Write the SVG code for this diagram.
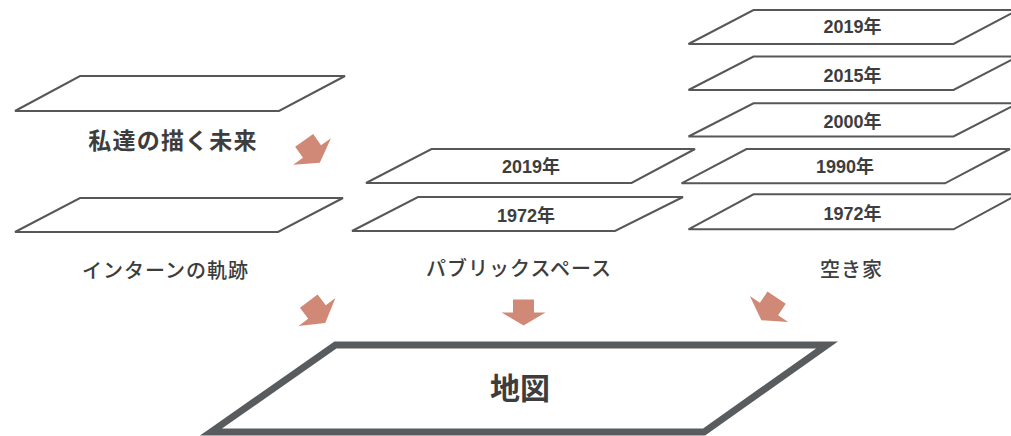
<svg xmlns="http://www.w3.org/2000/svg" width="1011" height="436" viewBox="0 0 1011 436">
  <style>
    .plane { fill: #ffffff; stroke: #555759; stroke-width: 2; stroke-linejoin: miter; }
    .map { fill: #ffffff; stroke: #595c5f; stroke-width: 7; stroke-linejoin: miter; }
    .lbl { font-family: "Noto Sans CJK JP", "Noto Sans", sans-serif; fill: #3d3d3d; text-anchor: middle; font-weight: 500; font-size: 20px; letter-spacing: 1px; }
    .big { font-size: 23px; font-weight: 700; letter-spacing: 1.2px; }
    .year { font-family: "Liberation Sans", "Noto Sans CJK JP", sans-serif; fill: #3d3d3d; text-anchor: middle; font-weight: 700; font-size: 18px; }
    .title { font-family: "Noto Sans CJK JP", sans-serif; fill: #3d3d3d; text-anchor: middle; font-weight: 700; font-size: 30px; }
    .arrow { fill: #d08976; }
  </style>
  <defs>
    <path id="arr" class="arrow" d="M-10.5,-13 H10.5 V0 H22 L0,13 L-22,0 H-10.5 Z"/>
  </defs>

  <g id="node-future">
    <polygon class="plane" points="15,111 80,76 345,76 279,111"/>
    <text class="lbl big" x="173" y="149">私達の描く未来</text>
  </g>

  <g id="node-intern">
    <polygon class="plane" points="15,232 80,198 343,198 278,232"/>
    <text class="lbl" x="165.5" y="278">インターンの軌跡</text>
  </g>

  <g id="node-public">
    <polygon class="plane" points="366,183 431.5,149 695,149 631.5,183"/>
    <text class="year" x="531" y="173">2019年</text>
    <polygon class="plane" points="352,231 418,197 683,197 615,231"/>
    <text class="year" x="526" y="222">1972年</text>
    <text class="lbl" x="519" y="275.5">パブリックスペース</text>
  </g>

  <g id="node-vacant">
    <polygon class="plane" points="688.5,44 753.5,10 1018,10 953.5,44"/>
    <text class="year" x="852.5" y="33.3">2019年</text>
    <polygon class="plane" points="688.5,90 753.5,56.5 1018,56.5 953.5,90"/>
    <text class="year" x="852.5" y="81.7">2015年</text>
    <polygon class="plane" points="688.5,136.5 753.5,103.3 1018,103.3 953.5,136.5"/>
    <text class="year" x="852.5" y="128.3">2000年</text>
    <polygon class="plane" points="681.5,183.3 746.5,149 1010,149 945,183.3"/>
    <text class="year" x="845" y="173.3">1990年</text>
    <polygon class="plane" points="688.5,229.3 753.5,194.3 1018,194.3 953.5,229.3"/>
    <text class="year" x="852.5" y="220">1972年</text>
    <text class="lbl" x="851.5" y="276.5">空き家</text>
  </g>

  <g id="node-map">
    <polygon class="map" points="211,432 335.5,345 827,345 704,432"/>
    <text class="title" x="520" y="399">地図</text>
  </g>

  <g id="connectors">
    <use href="#arr" transform="translate(312,151.5) rotate(-35) scale(1.05)"/>
    <use href="#arr" transform="translate(317,312) rotate(-37) scale(1.05)"/>
    <use href="#arr" transform="translate(523.5,312.5)"/>
    <use href="#arr" transform="translate(769,309) rotate(34) scale(1.05)"/>
  </g>
</svg>
